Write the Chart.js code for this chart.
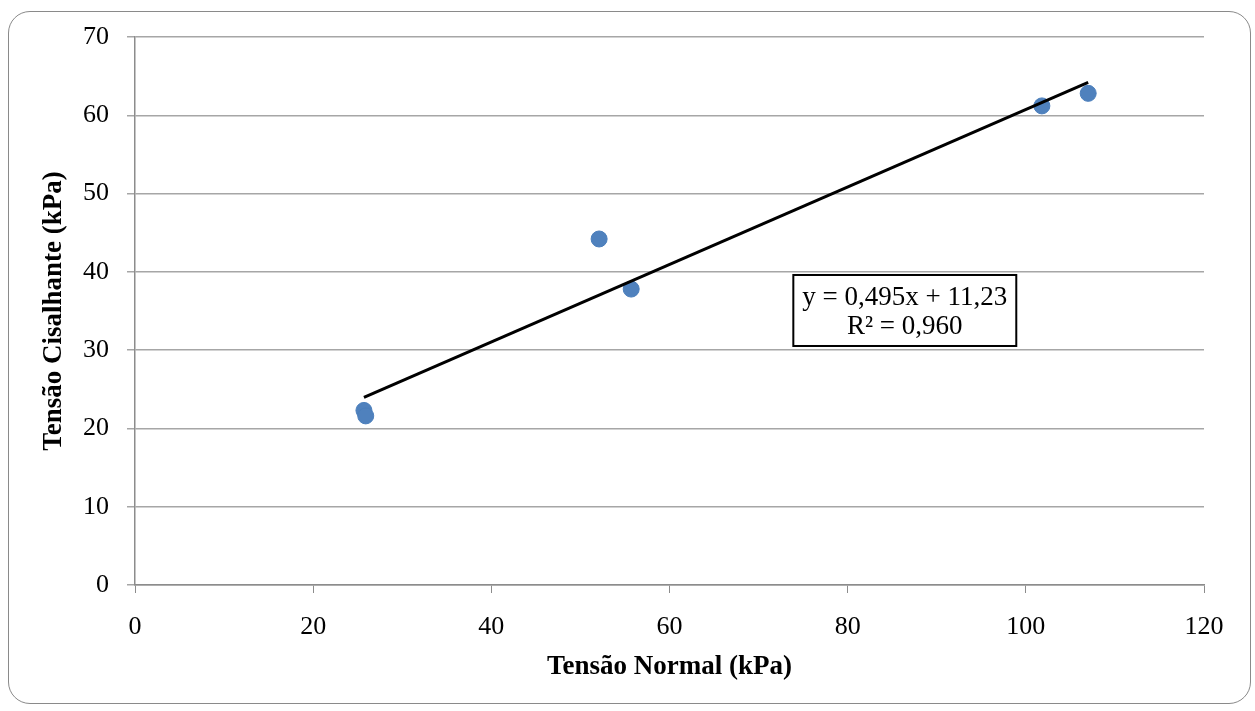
<!DOCTYPE html>
<html>
<head>
<meta charset="utf-8">
<title>Tensão Cisalhante x Tensão Normal</title>
<script src="https://cdn.jsdelivr.net/npm/chart.js@4.4.1/dist/chart.umd.min.js"></script>
<style>
  html, body { margin: 0; padding: 0; background: #fff; }
  #frame {
    position: absolute; left: 8px; top: 11px;
    width: 1241px; height: 691px;
    border: 1.5px solid #8a8a8a; border-radius: 22px;
  }
  #chart { position: absolute; left: 0; top: 0; }
</style>
</head>
<body>
<div id="frame"></div>
<canvas id="chart" width="1255" height="711"></canvas>
<script>
// ensaio de cisalhamento direto: tensão normal x tensão cisalhante (kPa)
const normalStress = [25.7, 25.9, 52.1, 55.7, 101.8, 107.0];
const shearStress = [22.3, 21.6, 44.2, 37.8, 61.2, 62.8];

const xTickValues = [0, 20, 40, 60, 80, 100, 120];
const yTickValues = [0, 10, 20, 30, 40, 50, 60, 70];

// linha de tendência linear
const slope = 0.495;
const intercept = 11.23;
const rSquared = 0.960;

const xTitle = "Tensão Normal (kPa)";
const yTitle = "Tensão Cisalhante (kPa)";

// canto superior esquerdo da caixa da equação, em unidades dos eixos
const eqBoxAt = { x: 73.9, y: 39.6 };

const fmt = (v, d) => v.toFixed(d).replace(".", ",");

const points = normalStress.map((x, i) => ({ x: x, y: shearStress[i] }));
const xMin = Math.min(...normalStress);
const xMax = Math.max(...normalStress);
const trend = [xMin, xMax].map((x) => ({ x: x, y: slope * x + intercept }));

Chart.defaults.font.family = "'Liberation Serif', 'Times New Roman', serif";
Chart.defaults.color = "#000";

const equationBox = {
  id: "equationBox",
  afterDatasetsDraw(chart) {
    const ctx = chart.ctx;
    const lines = [
      "y = " + fmt(slope, 3) + "x + " + fmt(intercept, 2),
      "R² = " + fmt(rSquared, 3),
    ];
    const left = chart.scales.x.getPixelForValue(eqBoxAt.x);
    const top = chart.scales.y.getPixelForValue(eqBoxAt.y);
    ctx.save();
    ctx.font = "27px 'Liberation Serif', 'Times New Roman', serif";
    const w = Math.max(...lines.map((l) => ctx.measureText(l).width)) + 18;
    const h = 71;
    ctx.fillStyle = "#fff";
    ctx.fillRect(left, top, w, h);
    ctx.strokeStyle = "#000";
    ctx.lineWidth = 2;
    ctx.strokeRect(left, top, w, h);
    ctx.fillStyle = "#000";
    ctx.textAlign = "center";
    ctx.textBaseline = "middle";
    ctx.fillText(lines[0], left + w / 2, top + 23);
    ctx.fillText(lines[1], left + w / 2, top + 52);
    ctx.restore();
  },
};

new Chart(document.getElementById("chart"), {
  type: "scatter",
  data: {
    datasets: [
      {
        type: "line",
        data: trend,
        borderColor: "#000",
        borderWidth: 3,
        pointRadius: 0,
        fill: false,
        order: 0,
      },
      {
        data: points,
        backgroundColor: "#4f81bd",
        borderColor: "#4a7ebb",
        borderWidth: 1,
        pointRadius: 8,
        order: 1,
      },
    ],
  },
  options: {
    responsive: false,
    animation: false,
    layout: { padding: { left: 0, top: 37, right: 51, bottom: 0 } },
    plugins: { legend: { display: false }, tooltip: { enabled: false } },
    scales: {
      x: {
        type: "linear",
        min: 0,
        max: 120,
        afterBuildTicks: (s) => { s.ticks = xTickValues.map((v) => ({ value: v })); },
        afterFit: (s) => { s.height = 126; },
        grid: { drawOnChartArea: false, drawTicks: true, tickLength: 8, color: "#8c8c8c" },
        border: { color: "#8c8c8c", width: 1.5 },
        ticks: { font: { size: 26 }, padding: 19, maxRotation: 0 },
        title: {
          display: true,
          text: xTitle,
          font: { size: 27, weight: "bold" },
          padding: { top: 0, bottom: 28 },
        },
      },
      y: {
        type: "linear",
        min: 0,
        max: 70,
        afterBuildTicks: (s) => { s.ticks = yTickValues.map((v) => ({ value: v })); },
        afterFit: (s) => { s.width = 135; },
        grid: { color: "#a6a6a6", lineWidth: 1.5, tickLength: 8 },
        border: { color: "#8c8c8c", width: 1.5 },
        ticks: { font: { size: 26 }, padding: 18 },
        title: {
          display: true,
          text: yTitle,
          font: { size: 27, weight: "bold" },
          padding: { top: 38, bottom: 0 },
        },
      },
    },
  },
  plugins: [equationBox],
});
</script>
</body>
</html>
